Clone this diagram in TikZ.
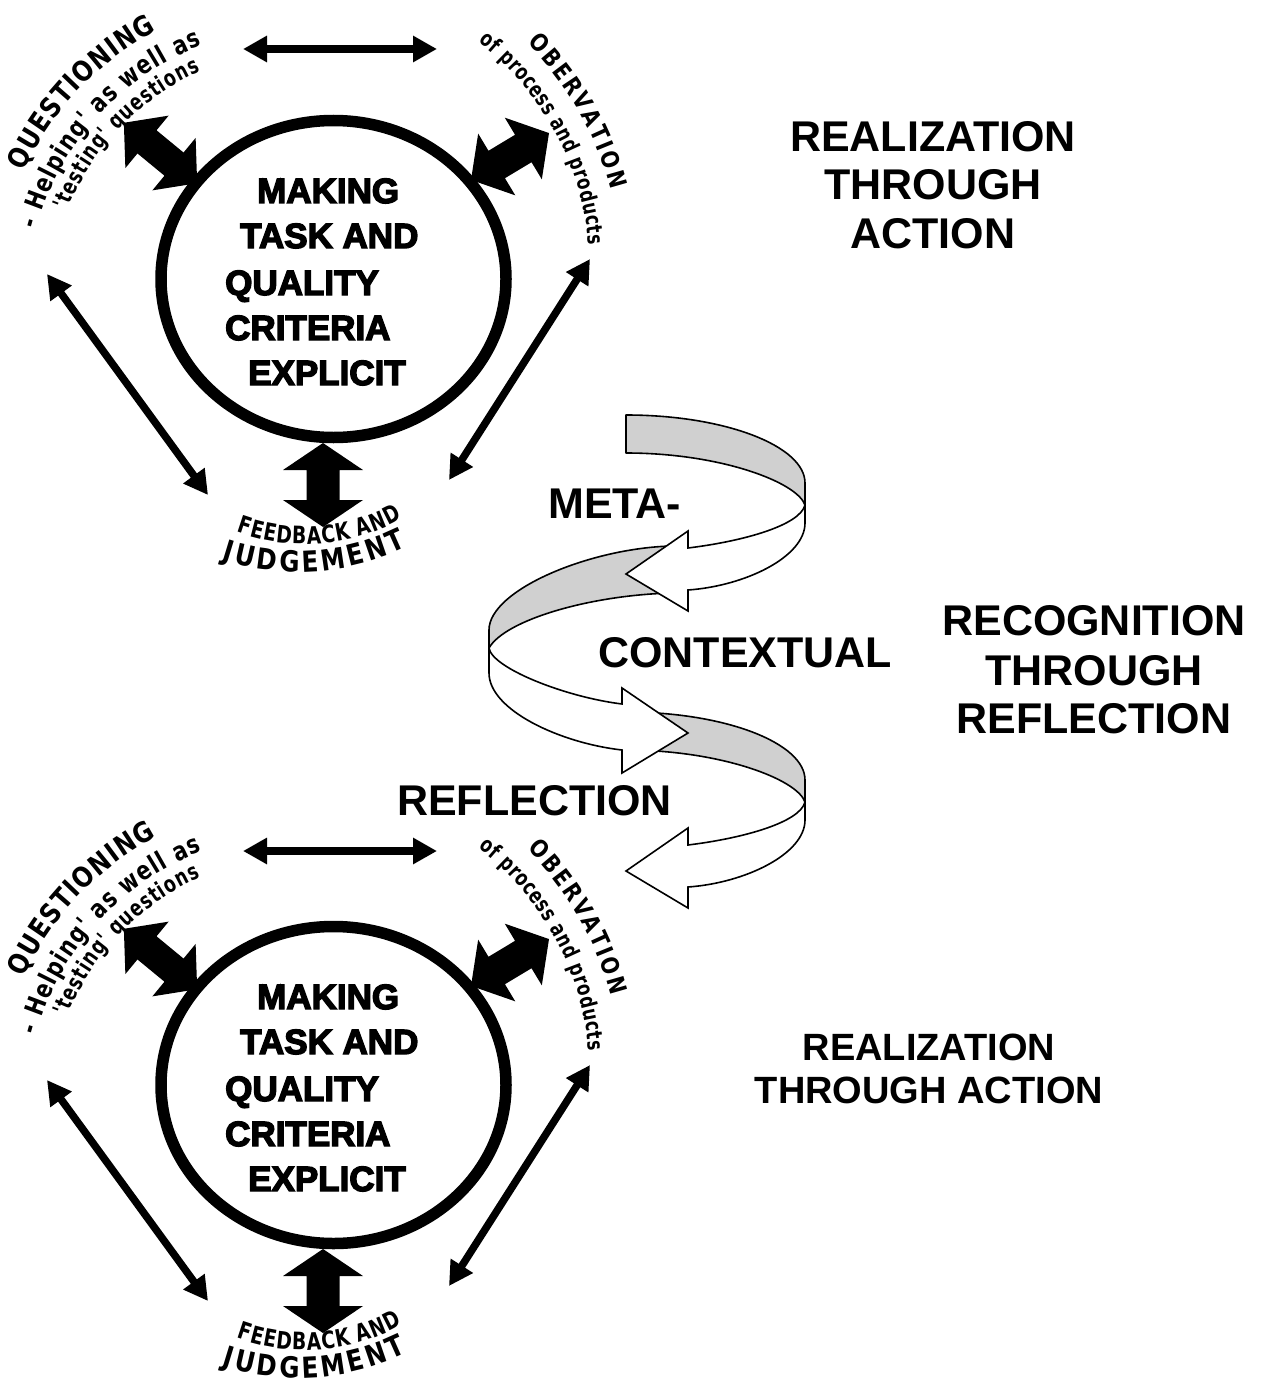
\documentclass[tikz,border=0pt]{standalone}
\usepackage{fontspec}
\setmainfont{Liberation Sans}
\newfontfamily\heavyfont{Liberation Sans}[FakeBold=4]
\newfontfamily\cfA{DejaVu Sans}[FakeStretch=0.85]
\newfontfamily\cfB{DejaVu Sans}[FakeStretch=0.80]
\newfontfamily\cfC{DejaVu Sans}[FakeStretch=0.75]
\newfontfamily\cfE{DejaVu Sans}[FakeStretch=0.78]
\usetikzlibrary{arrows.meta,decorations.text,shapes.geometric}
\definecolor{ribbongrey}{RGB}{208,208,208}
\newcommand\fs[1]{\bfseries\fontsize{#1}{#1}\selectfont}
\tikzset{
  ring/.style={draw, ellipse, line width=11.5pt, minimum width=345pt, minimum height=317pt, inner sep=0pt},
  circtext/.style={font=\heavyfont\bfseries\fontsize{35}{35}\selectfont, anchor=base west, inner sep=0pt},
  bigtext/.style={font=\bfseries\fontsize{43}{48}\selectfont, anchor=base, inner sep=0pt},
  midtext/.style={font=\bfseries\fontsize{38}{43}\selectfont, anchor=base, inner sep=0pt},
  spiraltext/.style={font=\bfseries\fontsize{43}{48}\selectfont, anchor=base west, inner sep=0pt},
  thinarrow/.style={line width=7.5pt, {Triangle[length=24pt,width=25pt]}-{Triangle[length=24pt,width=25pt]}},
  ribbongray/.style={draw=black, line width=1.6pt, fill=ribbongrey, line join=round},
  ribbonwhite/.style={draw=black, line width=1.6pt, fill=white, line join=miter},
}
% #1 x, #2 y, #3 rotation, #4 half length, #5 head length, #6 head half width, #7 shaft half width
\newcommand\blockarrow[7]{%
  \begin{scope}[shift={(#1,#2)},rotate=#3]
    \pgfmathsetmacro\bA{#4}\pgfmathsetmacro\bB{#4-#5}%
    \fill (-\bA pt,0pt) -- (-\bB pt,#6pt) -- (-\bB pt,#7pt) -- (\bB pt,#7pt) -- (\bB pt,#6pt)
      -- (\bA pt,0pt) -- (\bB pt,-#6pt) -- (\bB pt,-#7pt) -- (-\bB pt,-#7pt) -- (-\bB pt,-#6pt) -- cycle;
  \end{scope}}
\newcommand\onecycle[3]{%
  \begin{scope}[yshift=#2]
    \node[ring] (#1ring) at (333.5,279) {};
    \node[circtext] (#1ma) at (257,203) {MAKING};
    \node[circtext] (#1mb) at (240,248) {TASK AND};
    \node[circtext] (#1mc) at (225,295) {QUALITY};
    \node[circtext] (#1md) at (225,340) {CRITERIA};
    \node[circtext] (#1me) at (248,385) {EXPLICIT};
    \blockarrow{160.5}{153}{-39.5}{47.5}{30}{34}{15}
    \blockarrow{510}{156.5}{31}{45.5}{30}{36}{16}
    \blockarrow{323}{485}{90}{42}{27}{40}{16.5}
    \coordinate (#1ha) at (243,#3);
    \coordinate (#1hb) at (437,#3);
    \coordinate (#1la) at (47,274);
    \coordinate (#1lb) at (208,495);
    \coordinate (#1ra) at (590,259);
    \coordinate (#1rb) at (449,480);
    \draw[thinarrow] (#1ha) -- (#1hb);
    \draw[thinarrow] (#1la) -- (#1lb);
    \draw[thinarrow] (#1ra) -- (#1rb);
    \path[decorate, decoration={text along path, text align={fit to path},
      text={|\cfA\fs{28}|QUESTIONING}}]
      (300,300) ++(205:305) arc[start angle=205, end angle=242, radius=305];
    \path[decorate, decoration={text along path, text align={fit to path},
      text={|\cfB\fs{26}|- Helping' as well as}}]
      (300,300) ++(195:273) arc[start angle=195, end angle=249, radius=273];
    \path[decorate, decoration={text along path, text align={fit to path},
      text={|\cfC\fs{23}|'testing' questions}}]
      (300,300) ++(201:249) arc[start angle=201, end angle=246.5, radius=249];
    \path[decorate, decoration={text along path, text align={fit to path},
      text={|\cfA\fs{24}|OBERVATION}}]
      (300,270) ++(-45:321) arc[start angle=-45, end angle=-14.5, radius=321];
    \path[decorate, decoration={text along path, text align={fit to path},
      text={|\cfC\fs{22}|of process and products}}]
      (300,270) ++(-52:290) arc[start angle=-52, end angle=-5, radius=290];
    \path[decorate, decoration={text along path, text align={fit to path},
      text={|\cfE\fs{24}|FEEDBACK AND}}]
      (305,343) ++(110:201) arc[start angle=110, end angle=61, radius=201];
    \path[decorate, decoration={text along path, text align={fit to path},
      text={|\cfA\fs{29}|JUDGEMENT}}]
      (298,324) ++(108:248) arc[start angle=108, end angle=64, radius=248];
  \end{scope}}
\begin{document}
\begin{tikzpicture}[x=1pt,y=-1pt]
  \useasboundingbox (0,0) rectangle (1260,1383);
  \onecycle{u}{0pt}{49}
  \onecycle{d}{-806pt}{45}
  % right-hand labels
  \node[bigtext] (ra1) at (933,152) {REALIZATION};
  \node[bigtext] (ra2) at (933,200) {THROUGH};
  \node[bigtext] (ra3) at (933,248) {ACTION};
  \node[bigtext] (rr1) at (1094,635) {RECOGNITION};
  \node[bigtext] (rr2) at (1094,685) {THROUGH};
  \node[bigtext] (rr3) at (1094,733) {REFLECTION};
  \node[midtext] (rb1) at (929,1060) {REALIZATION};
  \node[midtext] (rb2) at (929,1103) {THROUGH ACTION};
  % spiral ribbon
  \filldraw[ribbongray] (626,415) .. controls (725,415) and (805,446) .. (805,483) -- (805,505)
    .. controls (797,482) and (720,453) .. (626,453) -- cycle;
  \filldraw[ribbongray] (672,546) .. controls (590,548) and (489,590) .. (489,630) -- (489,648)
    .. controls (505,620) and (590,595) .. (672,593) -- cycle;
  \filldraw[ribbonwhite] (805,505) -- (805,523) .. controls (805,557) and (745,586) .. (688,590)
    -- (688,611) -- (626,574) -- (688,531) -- (688,548) .. controls (745,541) and (800,525) .. (805,505) -- cycle;
  \filldraw[ribbongray] (626,712) .. controls (725,712) and (805,743) .. (805,780) -- (805,802)
    .. controls (797,779) and (720,750) .. (626,750) -- cycle;
  \filldraw[ribbonwhite] (489,648) -- (489,673) .. controls (489,710) and (560,743) .. (622,750)
    -- (622,773) -- (688,733) -- (622,688) -- (622,704) .. controls (565,697) and (492,668) .. (489,648) -- cycle;
  \filldraw[ribbonwhite] (805,802) -- (805,820) .. controls (805,854) and (745,883) .. (688,887)
    -- (688,908) -- (626,871) -- (688,828) -- (688,845) .. controls (745,838) and (800,822) .. (805,802) -- cycle;
  \node[spiraltext] (meta) at (548,518) {META-};
  \node[spiraltext] (ctx) at (598,667) {CONTEXTUAL};
  \node[spiraltext] (refl) at (397,815) {REFLECTION};
\end{tikzpicture}
\end{document}
